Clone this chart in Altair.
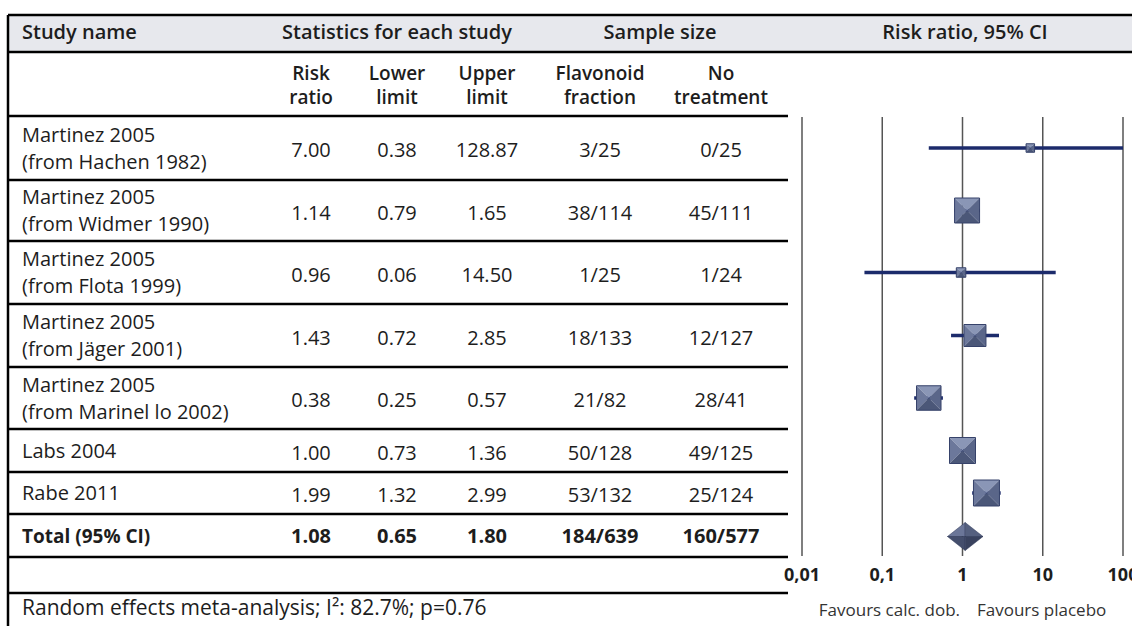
import altair as alt
import pandas as pd

W, H = 1132, 626

# ---- study data -------------------------------------------------------
studies = [
    "Martinez 2005\n(from Hachen 1982)",
    "Martinez 2005\n(from Widmer 1990)",
    "Martinez 2005\n(from Flota 1999)",
    "Martinez 2005\n(from Jäger 2001)",
    "Martinez 2005\n(from Marinel lo 2002)",
    "Labs 2004",
    "Rabe 2011",
]
risk_ratio = [7.00, 1.14, 0.96, 1.43, 0.38, 1.00, 1.99]
lower_limit = [0.38, 0.79, 0.06, 0.72, 0.25, 0.73, 1.32]
upper_limit = [128.87, 1.65, 14.50, 2.85, 0.57, 1.36, 2.99]
flavonoid = ["3/25", "38/114", "1/25", "18/133", "21/82", "50/128", "53/132"]
no_treatment = ["0/25", "45/111", "1/24", "12/127", "28/41", "49/125", "25/124"]
# relative study weight, drawn as the side of the square marker
weight_side = [8.5, 25, 9.5, 22, 24.5, 26, 26]

total_label = "Total (95% CI)"
total_rr, total_lo, total_hi = 1.08, 0.65, 1.80
total_flav, total_none = "184/639", "160/577"

axis_ticks = [0.01, 0.1, 1, 10, 100]
axis_tick_labels = ["0,01", "0,1", "1", "10", "100"]

footer = "Random effects meta-analysis; I²: 82.7%; p=0.76"
favours_left = "Favours calc. dob."
favours_right = "Favours placebo"

# ---- layout ------------------------------------------------------------
FONT = "Open Sans"
INK = "#1d1d1d"
LEFT = 8
TABLE_RIGHT = 788
TOP, HEAD_BOTTOM = 15, 52
row_edges = [116, 180, 241, 304, 367, 429, 472, 514, 557, 593]
row_mid = [(a + b) / 2 for a, b in zip(row_edges[:-1], row_edges[1:])]
col_name_x = 22
col_x = {"rr": 311, "lo": 397, "hi": 487, "flav": 600, "none": 721}
plot_range = [802, 1123]
plot_top, plot_bottom = 117, 556
BODY_LH = 27
HEAD_LH = 24

px = alt.Scale(domain=[0, W], range=[0, W], nice=False, zero=False)
py = alt.Scale(domain=[0, H], range=[0, H], nice=False, zero=False)
logx = alt.Scale(type="log", domain=[0.01, 100], range=plot_range,
                 nice=False, clamp=True)

X = lambda f: alt.X(f, type="quantitative", scale=px, axis=None)
X2 = lambda f: alt.X2(f)
Y = lambda f: alt.Y(f, type="quantitative", scale=py, axis=None)
LX = lambda f: alt.X(f, type="quantitative", scale=logx, axis=None)

# ---- table frame -------------------------------------------------------
band = pd.DataFrame({"x": [LEFT], "x2": [W], "y": [TOP], "y2": [HEAD_BOTTOM]})
band_layer = alt.Chart(band).mark_rect(fill="#e7e8ed").encode(
    x=X("x"), x2=X2("x2"), y=Y("y"), y2=alt.Y2("y2"))

hlines = pd.DataFrame(
    [{"x": LEFT, "x2": W, "y": TOP}, {"x": LEFT, "x2": W, "y": HEAD_BOTTOM}]
    + [{"x": LEFT, "x2": TABLE_RIGHT, "y": e} for e in row_edges]
)
hline_layer = alt.Chart(hlines).mark_rule(color="#000", strokeWidth=2.5).encode(
    x=X("x"), x2=X2("x2"), y=Y("y"))
vline_layer = alt.Chart(pd.DataFrame({"x": [LEFT], "y": [TOP], "y2": [H]})).mark_rule(
    color="#000", strokeWidth=2.5).encode(x=X("x"), y=Y("y"), y2=alt.Y2("y2"))

# ---- table text --------------------------------------------------------
def cells(rows):
    return pd.DataFrame(rows, columns=["x", "y", "t"])

def first_line_y(mid, text, lh):
    # centre a (possibly two-line) label on its row
    n = text.count("\n") + 1
    return mid - (n - 1) * lh / 2

sub_mid = 86
header_left = cells([(col_name_x, 33, "Study name")])
header_top = cells([
    (397, 33, "Statistics for each study"),
    (660, 33, "Sample size"),
    (965, 33, "Risk ratio, 95% CI"),
])
header_sub = cells([
    (col_x[k], first_line_y(sub_mid, t, HEAD_LH), t) for k, t in [
        ("rr", "Risk\nratio"), ("lo", "Lower\nlimit"), ("hi", "Upper\nlimit"),
        ("flav", "Flavonoid\nfraction"), ("none", "No\ntreatment")]
])

body_left = cells([(col_name_x, first_line_y(row_mid[i] + 1, s, BODY_LH), s)
                   for i, s in enumerate(studies)])
body_center_rows = []
for i in range(len(studies)):
    y = row_mid[i] + 3
    body_center_rows += [
        (col_x["rr"], y, f"{risk_ratio[i]:.2f}"),
        (col_x["lo"], y, f"{lower_limit[i]:.2f}"),
        (col_x["hi"], y, f"{upper_limit[i]:.2f}"),
        (col_x["flav"], y, flavonoid[i]),
        (col_x["none"], y, no_treatment[i]),
    ]
body_center = cells(body_center_rows)

ty = row_mid[7] + 1
total_left = cells([(col_name_x, ty, total_label)])
total_center = cells([
    (col_x["rr"], ty, f"{total_rr:.2f}"),
    (col_x["lo"], ty, f"{total_lo:.2f}"),
    (col_x["hi"], ty, f"{total_hi:.2f}"),
    (col_x["flav"], ty, total_flav),
    (col_x["none"], ty, total_none),
])

def text_layer(df, align, weight, size, color=INK, line_height=BODY_LH):
    return alt.Chart(df).mark_text(
        align=align, baseline="middle", font=FONT, fontSize=size,
        fontWeight=weight, color=color, lineBreak="\n", lineHeight=line_height,
    ).encode(x=X("x"), y=Y("y"), text="t:N")

footer_layer = text_layer(cells([(col_name_x, 609, footer)]), "left", "normal", 21)
fav_l = text_layer(cells([(960, 611, favours_left)]), "right", "normal", 17, "#333")
fav_r = text_layer(cells([(977, 611, favours_right)]), "left", "normal", 17, "#333")

# ---- forest plot -------------------------------------------------------
grid = pd.DataFrame({"v": axis_ticks, "y": plot_top, "y2": plot_bottom,
                     "lab": axis_tick_labels, "ly": 576})
grid_layer = alt.Chart(grid).mark_rule(color="#555", strokeWidth=1.5).encode(
    x=LX("v"), y=Y("y"), y2=alt.Y2("y2"))
tick_layer = alt.Chart(grid).mark_text(
    font=FONT, fontSize=18, fontWeight="bold", color=INK, baseline="middle"
).encode(x=LX("v"), y=Y("ly"), text="lab:N")

forest = pd.DataFrame({
    "rr": risk_ratio, "lo": lower_limit, "hi": upper_limit,
    "y": row_mid[:7], "size": [s * s for s in weight_side],
})
ci_layer = alt.Chart(forest).mark_rule(color="#1c2b6b", strokeWidth=3.5).encode(
    x=LX("lo"), x2=alt.X2("hi"), y=Y("y"))

faces = [
    ("M-1,-1L1,-1L0,0Z", "#8a96b6"),   # top
    ("M-1,-1L0,0L-1,1Z", "#6c789b"),   # left
    ("M1,-1L1,1L0,0Z", "#5a6689"),     # right
    ("M-1,1L1,1L0,0Z", "#4b5778"),     # bottom
]
marker_layers = [
    alt.Chart(forest).mark_point(shape=path, filled=True, fill=fill, opacity=1,
                                 strokeWidth=0).encode(
        x=LX("rr"), y=Y("y"), size=alt.Size("size:Q", scale=None, legend=None))
    for path, fill in faces
]
marker_layers.append(
    alt.Chart(forest).mark_point(shape="square", filled=False, stroke="#36426a",
                                 strokeWidth=1, opacity=1).encode(
        x=LX("rr"), y=Y("y"), size=alt.Size("size:Q", scale=None, legend=None))
)

# summary diamond, four shaded faces
dh = 14
dy = row_mid[7] + 1
def face(xs, ys, y2s, fill):
    d = pd.DataFrame({"x": xs, "y": ys, "y2": y2s})
    return alt.Chart(d).mark_area(fill=fill, opacity=1, stroke="#2c3656",
                                  strokeWidth=0.5).encode(
        x=LX("x"), y=Y("y"), y2=alt.Y2("y2"))
diamond_layers = [
    face([total_lo, total_rr], [dy, dy - dh], [dy, dy], "#6b7698"),
    face([total_rr, total_hi], [dy - dh, dy], [dy, dy], "#55607f"),
    face([total_lo, total_rr], [dy, dy], [dy, dy + dh], "#444e6c"),
    face([total_rr, total_hi], [dy, dy], [dy + dh, dy], "#39425e"),
]

chart = alt.layer(
    band_layer, hline_layer, vline_layer,
    text_layer(header_left, "left", 600, 20),
    text_layer(header_top, "center", 600, 20),
    text_layer(header_sub, "center", 600, 19, line_height=HEAD_LH),
    text_layer(body_left, "left", "normal", 20),
    text_layer(body_center, "center", "normal", 20),
    text_layer(total_left, "left", "bold", 19),
    text_layer(total_center, "center", "bold", 20),
    footer_layer, fav_l, fav_r,
    grid_layer, tick_layer, ci_layer, *marker_layers, *diamond_layers,
).resolve_scale(x="independent").properties(
    width=W, height=H, padding=0, autosize=alt.AutoSizeParams(type="none"),
    background="white",
).configure_view(stroke=None)

chart.save("out.html", embed_options={"renderer": "svg", "actions": False})
